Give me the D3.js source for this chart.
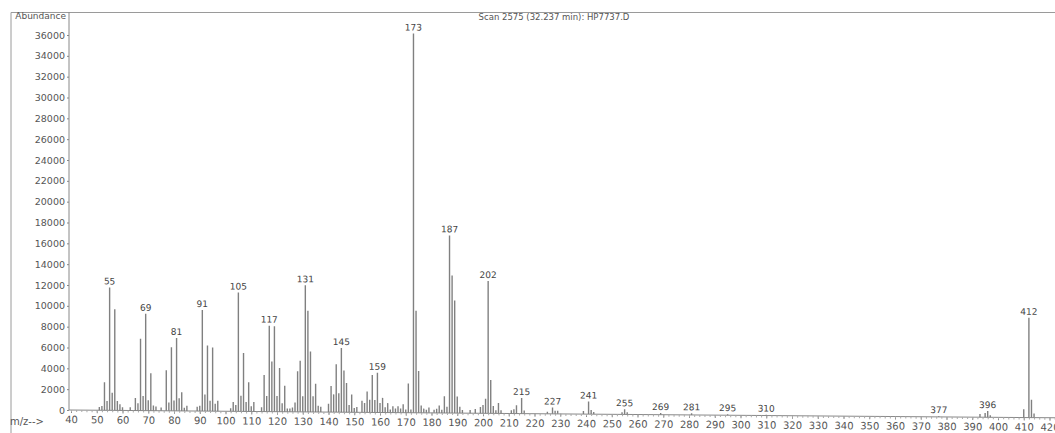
<!DOCTYPE html>
<html lang="en">
<head>
<meta charset="UTF-8">
<title>Scan 2575 (32.237 min): HP7737.D</title>
<script src="https://cdn.jsdelivr.net/npm/d3@7"></script>
<style>
  body { margin: 0; background: #fff; }
  svg { display: block; font-family: "DejaVu Sans", sans-serif; }
</style>
</head>
<body>
<script>
// peaks
const mz = [
  51, 52, 53, 54, 55, 56, 57, 58, 59, 60,
  63, 65, 66, 67, 68, 69, 70, 71, 72, 73,
  75, 77, 78, 79, 80, 81, 82, 83, 84, 85,
  89, 90, 91, 92, 93, 94, 95, 96, 97,
  102, 103, 104, 105, 106, 107, 108, 109, 110, 111,
  114, 115, 116, 117, 118, 119, 120, 121, 122, 123, 124, 125,
  126, 127, 128, 129, 130, 131, 132, 133, 134, 135, 136, 137,
  140, 141, 142, 143, 144, 145, 146, 147, 148, 149, 150, 151,
  153, 154, 155, 156, 157, 158, 159, 160, 161, 162, 163, 164, 165,
  166, 167, 168, 169, 170, 171, 172,
  173, 174, 175, 176, 177, 178, 179,
  181, 182, 183, 184, 185, 186, 187, 188, 189, 190, 191, 192,
  195, 197, 199, 200, 201, 202, 203, 204, 205, 206, 207,
  211, 212, 213, 215, 216,
  225, 227, 228, 229,
  239, 241, 242, 243,
  254, 255, 256,
  269, 281, 295, 310, 377,
  393, 395, 396, 397,
  410, 412, 413, 414
];
const abundance = [
  300, 400, 2700, 900, 11800, 1700, 9700, 900, 600, 300,
  300, 1200, 700, 6900, 1400, 9300, 1000, 3600, 500, 400,
  300, 3900, 800, 6100, 1000, 7000, 1200, 1800, 300, 500,
  400, 500, 9700, 1600, 6300, 1000, 6100, 700, 1000,
  300, 900, 600, 11400, 1500, 5600, 900, 2800, 500, 900,
  400, 3500, 1500, 8250, 4800, 8200, 1500, 4200, 800, 2500, 300, 300,
  400, 900, 3900, 4900, 1500, 12150, 9700, 5800, 1500, 2700, 600, 500,
  800, 2500, 1700, 4600, 1800, 6150, 4000, 2800, 700, 1700, 400, 500,
  1100, 900, 2000, 1200, 3600, 1200, 3800, 900, 1400, 500, 900, 300, 600,
  400, 600, 400, 800, 300, 2800, 300,
  36400, 9800, 4000, 700, 400, 300, 500,
  300, 400, 700, 300, 1600, 600, 17050, 13200, 10800, 1600, 600, 300,
  300, 400, 600, 800, 1400, 12700, 3200, 700, 300, 1000, 300,
  300, 400, 800, 1500, 300,
  200, 600, 300, 300,
  300, 1200, 400, 200,
  200, 500, 200,
  150, 150, 100, 80, 80,
  300, 400, 600, 200,
  800, 9580, 1700, 400
];
const labelledMz = [55, 69, 81, 91, 105, 117, 131, 145, 159, 173, 187, 202,
  215, 227, 241, 255, 269, 281, 295, 310, 377, 396, 412];
const yTicks = [0, 2000, 4000, 6000, 8000, 10000, 12000, 14000, 16000, 18000,
  20000, 22000, 24000, 26000, 28000, 30000, 32000, 34000, 36000];
const xTicks = [40, 50, 60, 70, 80, 90, 100, 110, 120, 130, 140, 150, 160, 170,
  180, 190, 200, 210, 220, 230, 240, 250, 260, 270, 280, 290, 300, 310, 320,
  330, 340, 350, 360, 370, 380, 390, 400, 410, 420];
const title = "Scan 2575 (32.237 min): HP7737.D";

const width = 1055;
const height = 433;
const axisX = 69;
const baseY = 410;

const x = d3.scaleLinear().domain([40, 435]).range([71, 71 + 395 * 2.575]);
const y = d3.scaleLinear().domain([0, 36000]).range([baseY, 35]);

const svg = d3.select("body").append("svg")
  .attr("width", width)
  .attr("height", height)
  .attr("viewBox", [0, 0, width, height]);

// page frame
svg.append("path")
  .attr("d", `M11,433V12.5H${width}`)
  .attr("fill", "none")
  .attr("stroke", "#9a9a9a")
  .attr("stroke-width", 1);

svg.append("text")
  .attr("x", 66).attr("y", 19)
  .attr("text-anchor", "end")
  .attr("font-size", 9)
  .attr("fill", "#555")
  .text("Abundance");

svg.append("text")
  .attr("x", 554).attr("y", 20)
  .attr("text-anchor", "middle")
  .attr("font-size", 8.5)
  .attr("fill", "#555")
  .text(title);

svg.append("text")
  .attr("x", 10).attr("y", 425)
  .attr("font-size", 10)
  .attr("fill", "#555")
  .text("m/z-->");

// y axis
const yAxis = svg.append("g")
  .attr("transform", `translate(${axisX},0)`)
  .call(d3.axisLeft(y).tickValues(yTicks).tickSize(2).tickPadding(2).tickFormat(d3.format("d")));
yAxis.select(".domain").attr("d", `M0,12V${baseY}`).attr("stroke", "#888");
yAxis.selectAll(".tick line").attr("stroke", "#888");
yAxis.selectAll("text").attr("fill", "#555").attr("font-size", 9.5)
  .attr("font-family", "DejaVu Sans, sans-serif");

// the scan sags slightly to the right
const plot = svg.append("g")
  .attr("transform", `translate(${axisX},0) skewY(0.45) translate(${-axisX},0)`);

const xAxis = plot.append("g")
  .attr("transform", `translate(0,${baseY})`)
  .call(d3.axisBottom(x).tickValues(xTicks).tickSize(3).tickPadding(3));
xAxis.select(".domain").attr("d", `M${axisX},0H${width + 40}`).attr("stroke", "#888");
xAxis.selectAll(".tick line").attr("stroke", "#888");
xAxis.selectAll("text").attr("fill", "#555").attr("font-size", 10)
  .attr("font-family", "DejaVu Sans, sans-serif");

// minor ticks give the dotted look of the axis
plot.append("g")
  .attr("transform", `translate(0,${baseY})`)
  .call(d3.axisBottom(x).tickValues(d3.range(40, 436, 2)).tickSize(2).tickFormat(""))
  .call(g => g.select(".domain").remove())
  .selectAll("line").attr("stroke", "#aaa");

const peaks = mz.map((m, i) => ({ mz: m, value: abundance[i] }));

plot.append("g")
  .attr("stroke", "#808080")
  .attr("stroke-width", 1.4)
  .selectAll("line")
  .data(peaks)
  .join("line")
  .attr("x1", d => x(d.mz))
  .attr("x2", d => x(d.mz))
  .attr("y1", y(0))
  .attr("y2", d => y(d.value));

plot.append("g")
  .attr("font-size", 9)
  .attr("fill", "#444")
  .attr("text-anchor", "middle")
  .selectAll("text")
  .data(peaks.filter(d => labelledMz.includes(d.mz)))
  .join("text")
  .attr("x", d => x(d.mz))
  .attr("y", d => y(d.value) - 3)
  .text(d => d.mz);
</script>
</body>
</html>
